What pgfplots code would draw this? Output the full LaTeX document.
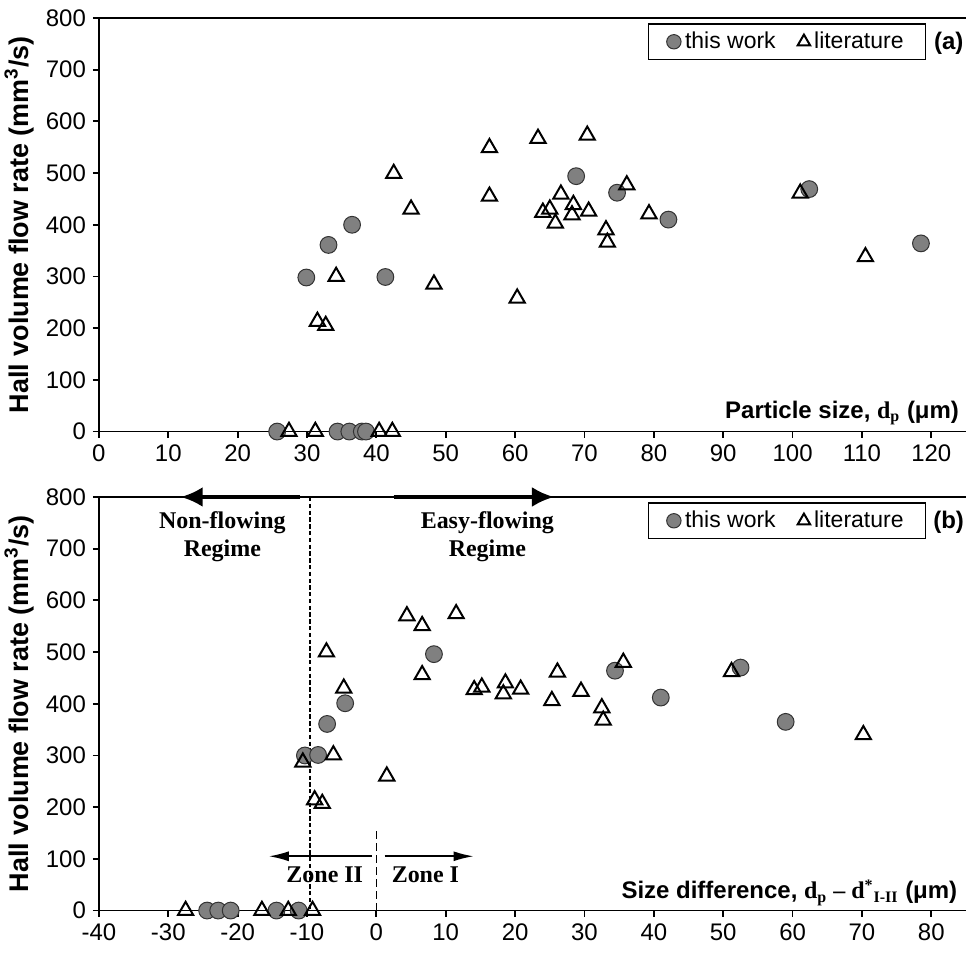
\documentclass[border=0pt]{standalone}
\usepackage{pgfplots}
\pgfplotsset{compat=1.18}
\usepackage{fontspec}
\setmainfont{Liberation Sans}
\newfontfamily\tnr{Liberation Serif}
\usetikzlibrary{arrows.meta,calc}

\definecolor{dotgray}{RGB}{128,128,128}

\pgfplotsset{
  panel/.style={
    scale only axis, width=434pt, height=207pt,
    ymin=0, ymax=800, ytick={0,100,...,800},
    axis x line=bottom, axis y line=left,
    axis line style={-, line width=0.9pt},
    tick align=outside, major tick length=3pt,
    tick style={line width=0.9pt, black},
    clip=false,
    ticklabel style={font=\fontsize{12}{14}\selectfont},
    /pgf/number format/assume math mode=true,
    ylabel={\bfseries Hall volume flow rate (mm\textsuperscript{3}/s)},
    ylabel style={font=\fontsize{13.5}{15}\selectfont,
      at={(axis description cs:-0.092,0.5)}, anchor=center},
    xlabel style={font=\fontsize{12}{14}\selectfont, anchor=east},
    legend columns=2,
    legend cell align=left,
    legend image code/.code={\draw[mark repeat=2,mark phase=2,#1]
      plot coordinates {(0cm,0cm)(0.14cm,0cm)(0.28cm,0cm)};},
    legend image post style={mark size=3.6pt},
    legend style={at={(0.954,0.987)}, anchor=north east, draw=black,
      line width=0.6pt, font=\fontsize{11.5}{13}\selectfont,
      inner xsep=9pt,
      /tikz/every even column/.append style={column sep=9pt}},
  },
  tw/.style={only marks, mark=*, mark size=4.2pt,
    mark options={fill=dotgray, draw=black!80, line width=0.5pt}},
  lit/.style={only marks, mark=triangle, mark size=4.4pt,
    mark options={fill=white, draw=black, line width=1pt}},
}

\begin{document}
\begin{tikzpicture}

% (a) against particle size
\begin{axis}[panel, name=top,
    xmin=0, xmax=125, xtick={0,10,...,120},
    xlabel={\bfseries Particle size, {\tnr d\textsubscript{p}} (μm)},
    xlabel style={at={(axis description cs:1.0,0.045)}},
  ]
  \addplot[tw] coordinates {
    (25.7,0)(34.4,0)(36.1,0)(37.9,0)(38.5,0)
    (29.9,298)(33.1,361)(36.5,400)(41.3,299)(68.8,494)
    (74.7,462)(82.1,410)(102.4,469)(118.5,364)};
  \addlegendentry{this work}
  \addplot[lit] coordinates {
    (27.4,0)(31.2,0)(40.4,0)(42.3,0)
    (42.5,499)(45.0,430)(34.2,300)(31.5,213)(32.7,205)(48.3,285)
    (56.3,549)(56.3,455)(63.3,567)(70.4,573)(60.3,258)(66.6,459)
    (65.0,430)(64.0,424)(65.8,403)(68.4,439)(68.2,419)(70.6,426)
    (76.1,477)(73.1,390)(73.3,366)(79.3,421)(101.1,461)(110.5,338)};
  \addlegendentry{literature}
  \draw[line width=0.6pt] (axis cs:0,800) -- (axis cs:125,800);
  \node[font=\bfseries\fontsize{12}{14}\selectfont] at (rel axis cs:0.980,0.938) {(a)};
\end{axis}

% (b) against size difference
\begin{axis}[panel, name=bot, at={($(top.south west)+(0,-32.75pt)$)}, anchor=north west,
    xmin=-40, xmax=85, xtick={-40,-30,...,80},
    xlabel={\bfseries Size difference, {\tnr d\textsubscript{p} – d\textsuperscript{*}\textsubscript{I-II}} (μm)},
    xlabel style={at={(axis description cs:0.998,0.043)}},
  ]
  \addplot[tw] coordinates {
    (-24.4,0)(-22.8,0)(-21.0,0)(-14.4,0)(-11.2,0)
    (8.3,496)(-4.5,401)(-7.1,361)(-10.3,300)(-8.4,301)
    (34.4,464)(41.0,412)(52.5,470)(59.0,365)};
  \addlegendentry{this work}
  \addplot[lit] coordinates {
    (-27.5,0)(-16.5,0)(-12.7,0)(-9.2,0)
    (4.4,570)(6.6,551)(11.5,574)(-7.2,500)(6.6,456)(-4.7,430)
    (-6.2,301)(-10.6,287)(-8.9,214)(-7.8,207)(1.5,260)(14.1,427)
    (15.2,432)(18.6,440)(18.3,419)(20.8,428)(26.1,461)(25.3,406)
    (29.5,424)(32.5,392)(32.7,368)(35.6,480)(51.2,462)(70.2,340)};
  \addlegendentry{literature}
  \draw[line width=0.6pt] (axis cs:-40,800) -- (axis cs:85,800);
  \node[font=\bfseries\fontsize{12}{14}\selectfont] at (rel axis cs:0.980,0.938) {(b)};
  % regime boundary and arrows
  \draw[line width=0.8pt, dash pattern=on 2.2pt off 1.2pt] (axis cs:-9.6,800) -- (axis cs:-9.6,0);
  \draw[line width=1.8pt, -{Latex[length=11pt,width=10pt]}] (axis cs:-11,800) -- (axis cs:-28.2,800);
  \draw[line width=1.8pt, -{Latex[length=11pt,width=10pt]}] (axis cs:2.5,800) -- (axis cs:25.6,800);
  \node[font=\tnr\bfseries\fontsize{12}{14}\selectfont, align=center] at (axis cs:-22.2,724) {Non-flowing\\Regime};
  \node[font=\tnr\bfseries\fontsize{12}{14}\selectfont, align=center] at (axis cs:16,724) {Easy-flowing\\Regime};
  % zone boundary
  \draw[line width=0.7pt, dash pattern=on 4pt off 2pt] (axis cs:0,153) -- (axis cs:0,0);
  \draw[line width=0.8pt, -{Latex[length=10pt,width=5pt]}] (axis cs:-0.6,105) -- (axis cs:-15.5,105);
  \draw[line width=0.8pt, -{Latex[length=10pt,width=5pt]}] (axis cs:1.2,105) -- (axis cs:14.0,105);
  \node[font=\tnr\bfseries\fontsize{12}{14}\selectfont, anchor=east] at (axis cs:-0.9,70) {Zone II};
  \node[font=\tnr\bfseries\fontsize{12}{14}\selectfont, anchor=west] at (axis cs:1.2,70) {Zone I};
\end{axis}

\pgfresetboundingbox
\useasboundingbox ($(top.north west)+(-49.5pt,9pt)$) rectangle ($(bot.south east)+(0,-21.5pt)$);
\end{tikzpicture}
\end{document}
